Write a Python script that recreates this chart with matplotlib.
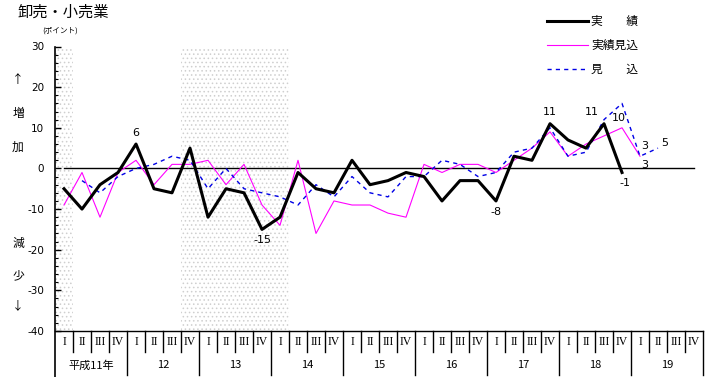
import matplotlib
matplotlib.use('Agg')
import matplotlib.pyplot as plt
from matplotlib.lines import Line2D
import numpy as np

plt.rcParams['font.family'] = ['Noto Sans CJK JP', 'DejaVu Sans']
plt.rcParams['hatch.linewidth'] = 0.6

# ---------------- data ----------------
years = ['平成11年', '12', '13', '14', '15', '16', '17', '18', '19']
quarters = ['I', 'II', 'III', 'IV']

# 実績 (from 平成11 I)
actual = [-5, -10, -4, -1, 6, -5, -6, 5, -12, -5, -6, -15, -12, -1, -5, -6,
          2, -4, -3, -1, -2, -8, -3, -3, -8, 3, 2, 11, 7, 5, 11, -1]
# 実績見込 (from 平成11 I)
actual_est = [-9, -1, -12, -1, 2, -4, 1, 1, 2, -4, 1, -9, -14, 2, -16, -8,
              -9, -9, -11, -12, 1, -1, 1, 1, -1, 2, 5, 9, 3, 6, 8, 10, 3]
# 見込 (from 平成11 II)
forecast = [-3, -6, -2, 0, 1, 3, 2, -5, 0, -5, -6, -7, -9, -4, -7, -2,
            -6, -7, -2, -2, 2, 1, -2, -1, 4, 5, 10, 3, 4, 12, 16, 3, 5]
forecast_start = 1

# shaded periods (quarter index ranges, inclusive)
shaded = [(0, 0), (7, 12)]

# point labels: (series, index, text)
point_labels = [
    ('actual', 4, '6'), ('actual', 11, '-15'), ('actual', 24, '-8'),
    ('actual', 27, '11'), ('actual', 30, '11'), ('actual', 31, '-1'),
    ('actual_est', 31, '10'), ('actual_est', 32, '3'),
    ('forecast', 32, '3'), ('forecast', 33, '5'),
]

yticks = [30, 20, 10, 0, -10, -20, -30, -40]

# ---------------- figure ----------------
W, H = 706, 377
fig = plt.figure(figsize=(W / 100, H / 100), dpi=100)
L, R, T, B = 55, 703, 46.5, 331
ax = fig.add_axes([L / W, 1 - B / H, (R - L) / W, (B - T) / H])
nq = len(years) * 4
ax.set_xlim(-0.5, nq - 0.5)
ax.set_ylim(-40, 30)
for s in ['top', 'right', 'bottom', 'left']:
    ax.spines[s].set_visible(False)

xt = ax.get_xaxis_transform()

# shading
for a, b in shaded:
    ax.fill_between([a - 0.5, b + 0.5], -40, 30, facecolor='white',
                    edgecolor='#cfcfcf', hatch='....', linewidth=0, zorder=0)

# y axis
ax.set_yticks(yticks)
ax.set_yticklabels([str(v) for v in yticks], fontsize=7.5,
                   family=['DejaVu Sans'])
ax.set_yticks(np.arange(-40, 31, 2), minor=True)
ax.tick_params(axis='y', which='major', direction='in', length=4, width=1,
               pad=8)
ax.tick_params(axis='y', which='minor', direction='in', length=2, width=0.8)
ax.set_xticks([])
ax.plot([-0.5, -0.5], [1, -0.16], transform=xt, color='black', lw=1.2,
        clip_on=False, zorder=5)

# zero line
ax.plot([0, nq - 1], [0, 0], color='black', lw=1, zorder=2)

# series
xa = np.arange(len(actual))
xe = np.arange(len(actual_est))
xf = np.arange(forecast_start, forecast_start + len(forecast))
ax.plot(xe, actual_est, color='#ff00ff', lw=0.8, zorder=3)
ax.plot(xf, forecast, color='#0000e6', lw=1.0, ls=(0, (3, 3)), zorder=3)
ax.plot(xa, actual, color='black', lw=2.2, zorder=4)

series = {'actual': (xa, actual), 'actual_est': (xe, actual_est),
          'forecast': (xf, forecast)}
offsets = {
    ('actual', 4): (0, 11), ('actual', 11): (0, -11), ('actual', 24): (0, -11),
    ('actual', 27): (0, 12), ('actual', 30): (-12, 12), ('actual', 31): (3, -11),
    ('actual_est', 31): (-3, 10), ('actual_est', 32): (5, -9),
    ('forecast', 32): (5, 10), ('forecast', 33): (7, 5),
}
for name, i, txt in point_labels:
    xs, ys = series[name]
    j = list(xs).index(i)
    dx, dy = offsets[(name, i)]
    ax.annotate(txt, (xs[j], ys[j]), xytext=(dx, dy), textcoords='offset pixels',
                ha='center', va='center', fontsize=8, family=['DejaVu Sans'])

# category table
ax.plot([-0.5, nq - 0.5], [0, 0], transform=xt, color='black', lw=1,
        clip_on=False)
for k in range(1, nq + 1):
    bottom = -0.155 if k % 4 == 0 else -0.074
    ax.plot([k - 0.5, k - 0.5], [0, bottom], transform=xt, color='black',
            lw=1, clip_on=False)
for i in range(nq):
    ax.text(i, -0.037, quarters[i % 4], transform=xt, ha='center',
            va='center', fontsize=8.5, family=['Liberation Serif'])
for j, y in enumerate(years):
    ax.text(4 * j + 1.5, -0.12, y, transform=xt, ha='center', va='center',
            fontsize=8)

# texts
def fp(x, y):
    return x / W, 1 - y / H

fig.text(*fp(17, 12), '卸売・小売業', fontsize=11, ha='left', va='center')
fig.text(*fp(42, 31), '(ポイント)', fontsize=5.5, ha='left', va='center')
for txt, y in [('↑', 80), ('増', 113), ('加', 147), ('減', 243), ('少', 276),
               ('↓', 306)]:
    fig.text(*fp(18, y), txt, fontsize=8.5, ha='center', va='center')

# legend
leg = [('実\u3000\u3000績', dict(color='black', lw=2.2), 21),
       ('実績見込', dict(color='#ff00ff', lw=0.8), 45),
       ('見\u3000\u3000込', dict(color='#0000e6', lw=1.0, ls=(0, (3, 3))), 69)]
for txt, style, y in leg:
    x0, y0 = fp(547, y)
    x1, _ = fp(588, y)
    fig.add_artist(Line2D([x0, x1], [y0, y0], transform=fig.transFigure, **style))
    fig.text(*fp(591, y), txt, fontsize=8.5, ha='left', va='center')

fig.savefig('out.png', dpi=100)
